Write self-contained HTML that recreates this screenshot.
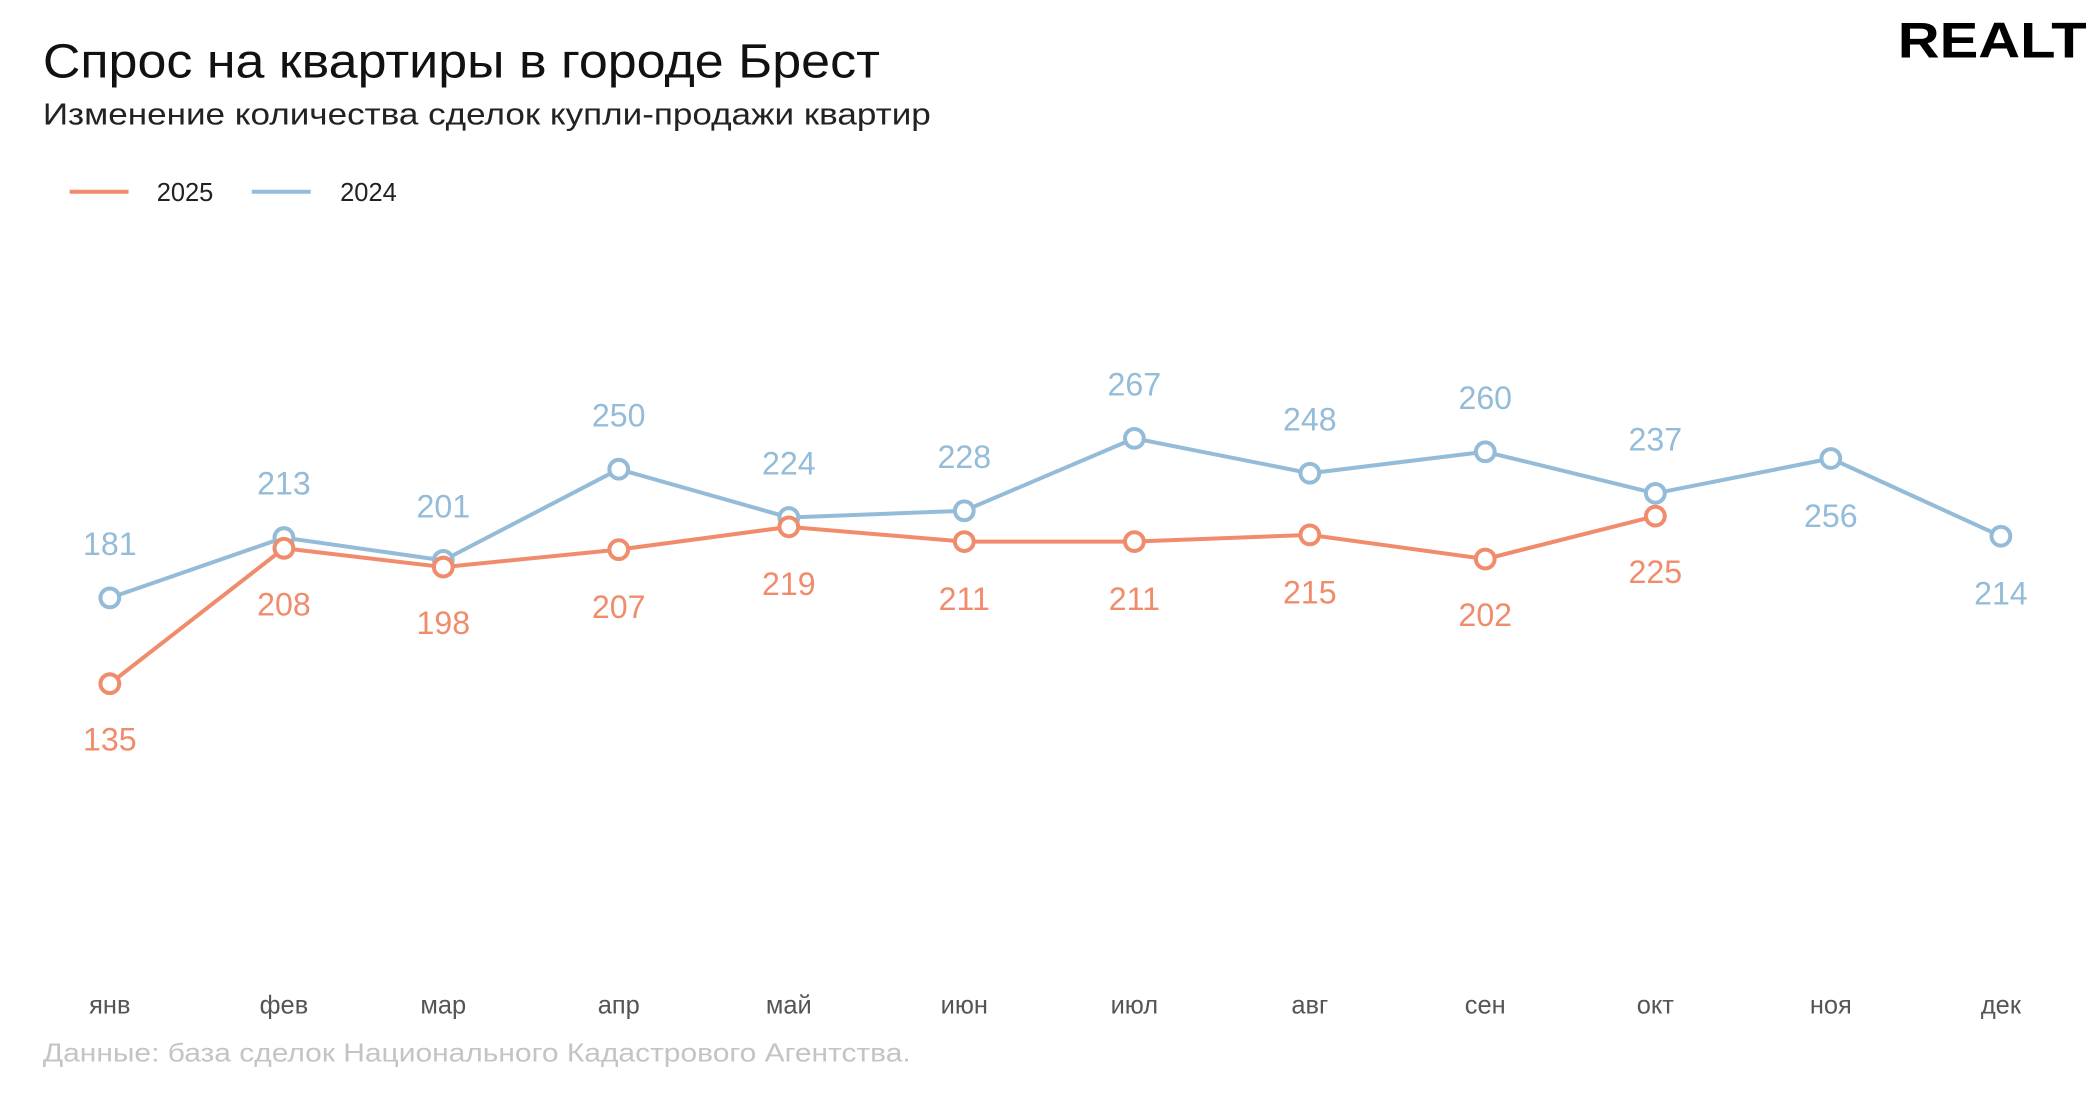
<!DOCTYPE html>
<html><head><meta charset="utf-8"><style>
html,body{margin:0;padding:0;background:#fff;}
svg{display:block;}
text{font-family:"Liberation Sans",sans-serif;}
</style></head><body>
<svg width="2100" height="1110" viewBox="0 0 1568 828" preserveAspectRatio="none" xmlns="http://www.w3.org/2000/svg">
<rect width="1568" height="828" fill="#fff"/>
<text x="32" y="58" font-size="36" fill="#111" textLength="625" lengthAdjust="spacingAndGlyphs">Спрос на квартиры в городе Брест</text>
<text x="32" y="93" font-size="23" fill="#222" textLength="663" lengthAdjust="spacingAndGlyphs">Изменение количества сделок купли-продажи квартир</text>
<text x="1417" y="43" font-size="37" font-weight="bold" fill="#000" textLength="141" lengthAdjust="spacingAndGlyphs">REALT</text>
<line x1="52" y1="143" x2="96" y2="143" stroke="#f08c6c" stroke-width="3"/>
<text x="117" y="150" font-size="19" fill="#222">2025</text>
<line x1="188" y1="143" x2="232" y2="143" stroke="#94bcd8" stroke-width="3"/>
<text x="254" y="150" font-size="19" fill="#222">2024</text>
<g fill="none" stroke-width="3" stroke-linejoin="round">
<polyline stroke="#94bcd8" points="82,446 212,401 331,418 462,350 589,386 720,381 847,327 978,353 1109,337 1236,368 1367,342 1494,400"/>
<polyline stroke="#f08c6c" points="82,510 212,409 331,423 462,410 589,393 720,404 847,404 978,399 1109,417 1236,385"/>
</g>
<g fill="#fff" stroke="#94bcd8" stroke-width="3">
<circle cx="82" cy="446" r="7"/><circle cx="212" cy="401" r="7"/><circle cx="331" cy="418" r="7"/><circle cx="462" cy="350" r="7"/><circle cx="589" cy="386" r="7"/><circle cx="720" cy="381" r="7"/><circle cx="847" cy="327" r="7"/><circle cx="978" cy="353" r="7"/><circle cx="1109" cy="337" r="7"/><circle cx="1236" cy="368" r="7"/><circle cx="1367" cy="342" r="7"/><circle cx="1494" cy="400" r="7"/>
</g>
<g fill="#fff" stroke="#f08c6c" stroke-width="3">
<circle cx="82" cy="510" r="7"/><circle cx="212" cy="409" r="7"/><circle cx="331" cy="423" r="7"/><circle cx="462" cy="410" r="7"/><circle cx="589" cy="393" r="7"/><circle cx="720" cy="404" r="7"/><circle cx="847" cy="404" r="7"/><circle cx="978" cy="399" r="7"/><circle cx="1109" cy="417" r="7"/><circle cx="1236" cy="385" r="7"/>
</g>
<g font-size="24" fill="#94bcd8" text-anchor="middle">
<text x="82" y="414">181</text><text x="212" y="369">213</text><text x="331" y="386">201</text><text x="462" y="318">250</text><text x="589" y="354">224</text><text x="720" y="349">228</text><text x="847" y="295">267</text><text x="978" y="321">248</text><text x="1109" y="305">260</text><text x="1236" y="336">237</text><text x="1367" y="393">256</text><text x="1494" y="451">214</text>
</g>
<g font-size="24" fill="#f08c6c" text-anchor="middle">
<text x="82" y="560">135</text><text x="212" y="459">208</text><text x="331" y="473">198</text><text x="462" y="461">207</text><text x="589" y="444">219</text><text x="720" y="455">211</text><text x="847" y="455">211</text><text x="978" y="450">215</text><text x="1109" y="467">202</text><text x="1236" y="435">225</text>
</g>
<g font-size="19" fill="#555" text-anchor="middle">
<text x="82" y="756">янв</text><text x="212" y="756">фев</text><text x="331" y="756">мар</text><text x="462" y="756">апр</text><text x="589" y="756">май</text><text x="720" y="756">июн</text><text x="847" y="756">июл</text><text x="978" y="756">авг</text><text x="1109" y="756">сен</text><text x="1236" y="756">окт</text><text x="1367" y="756">ноя</text><text x="1494" y="756">дек</text>
</g>
<text x="32" y="792" font-size="19" fill="#c4c4c4" textLength="648" lengthAdjust="spacingAndGlyphs">Данные: база сделок Национального Кадастрового Агентства.</text>
</svg>
</body></html>
